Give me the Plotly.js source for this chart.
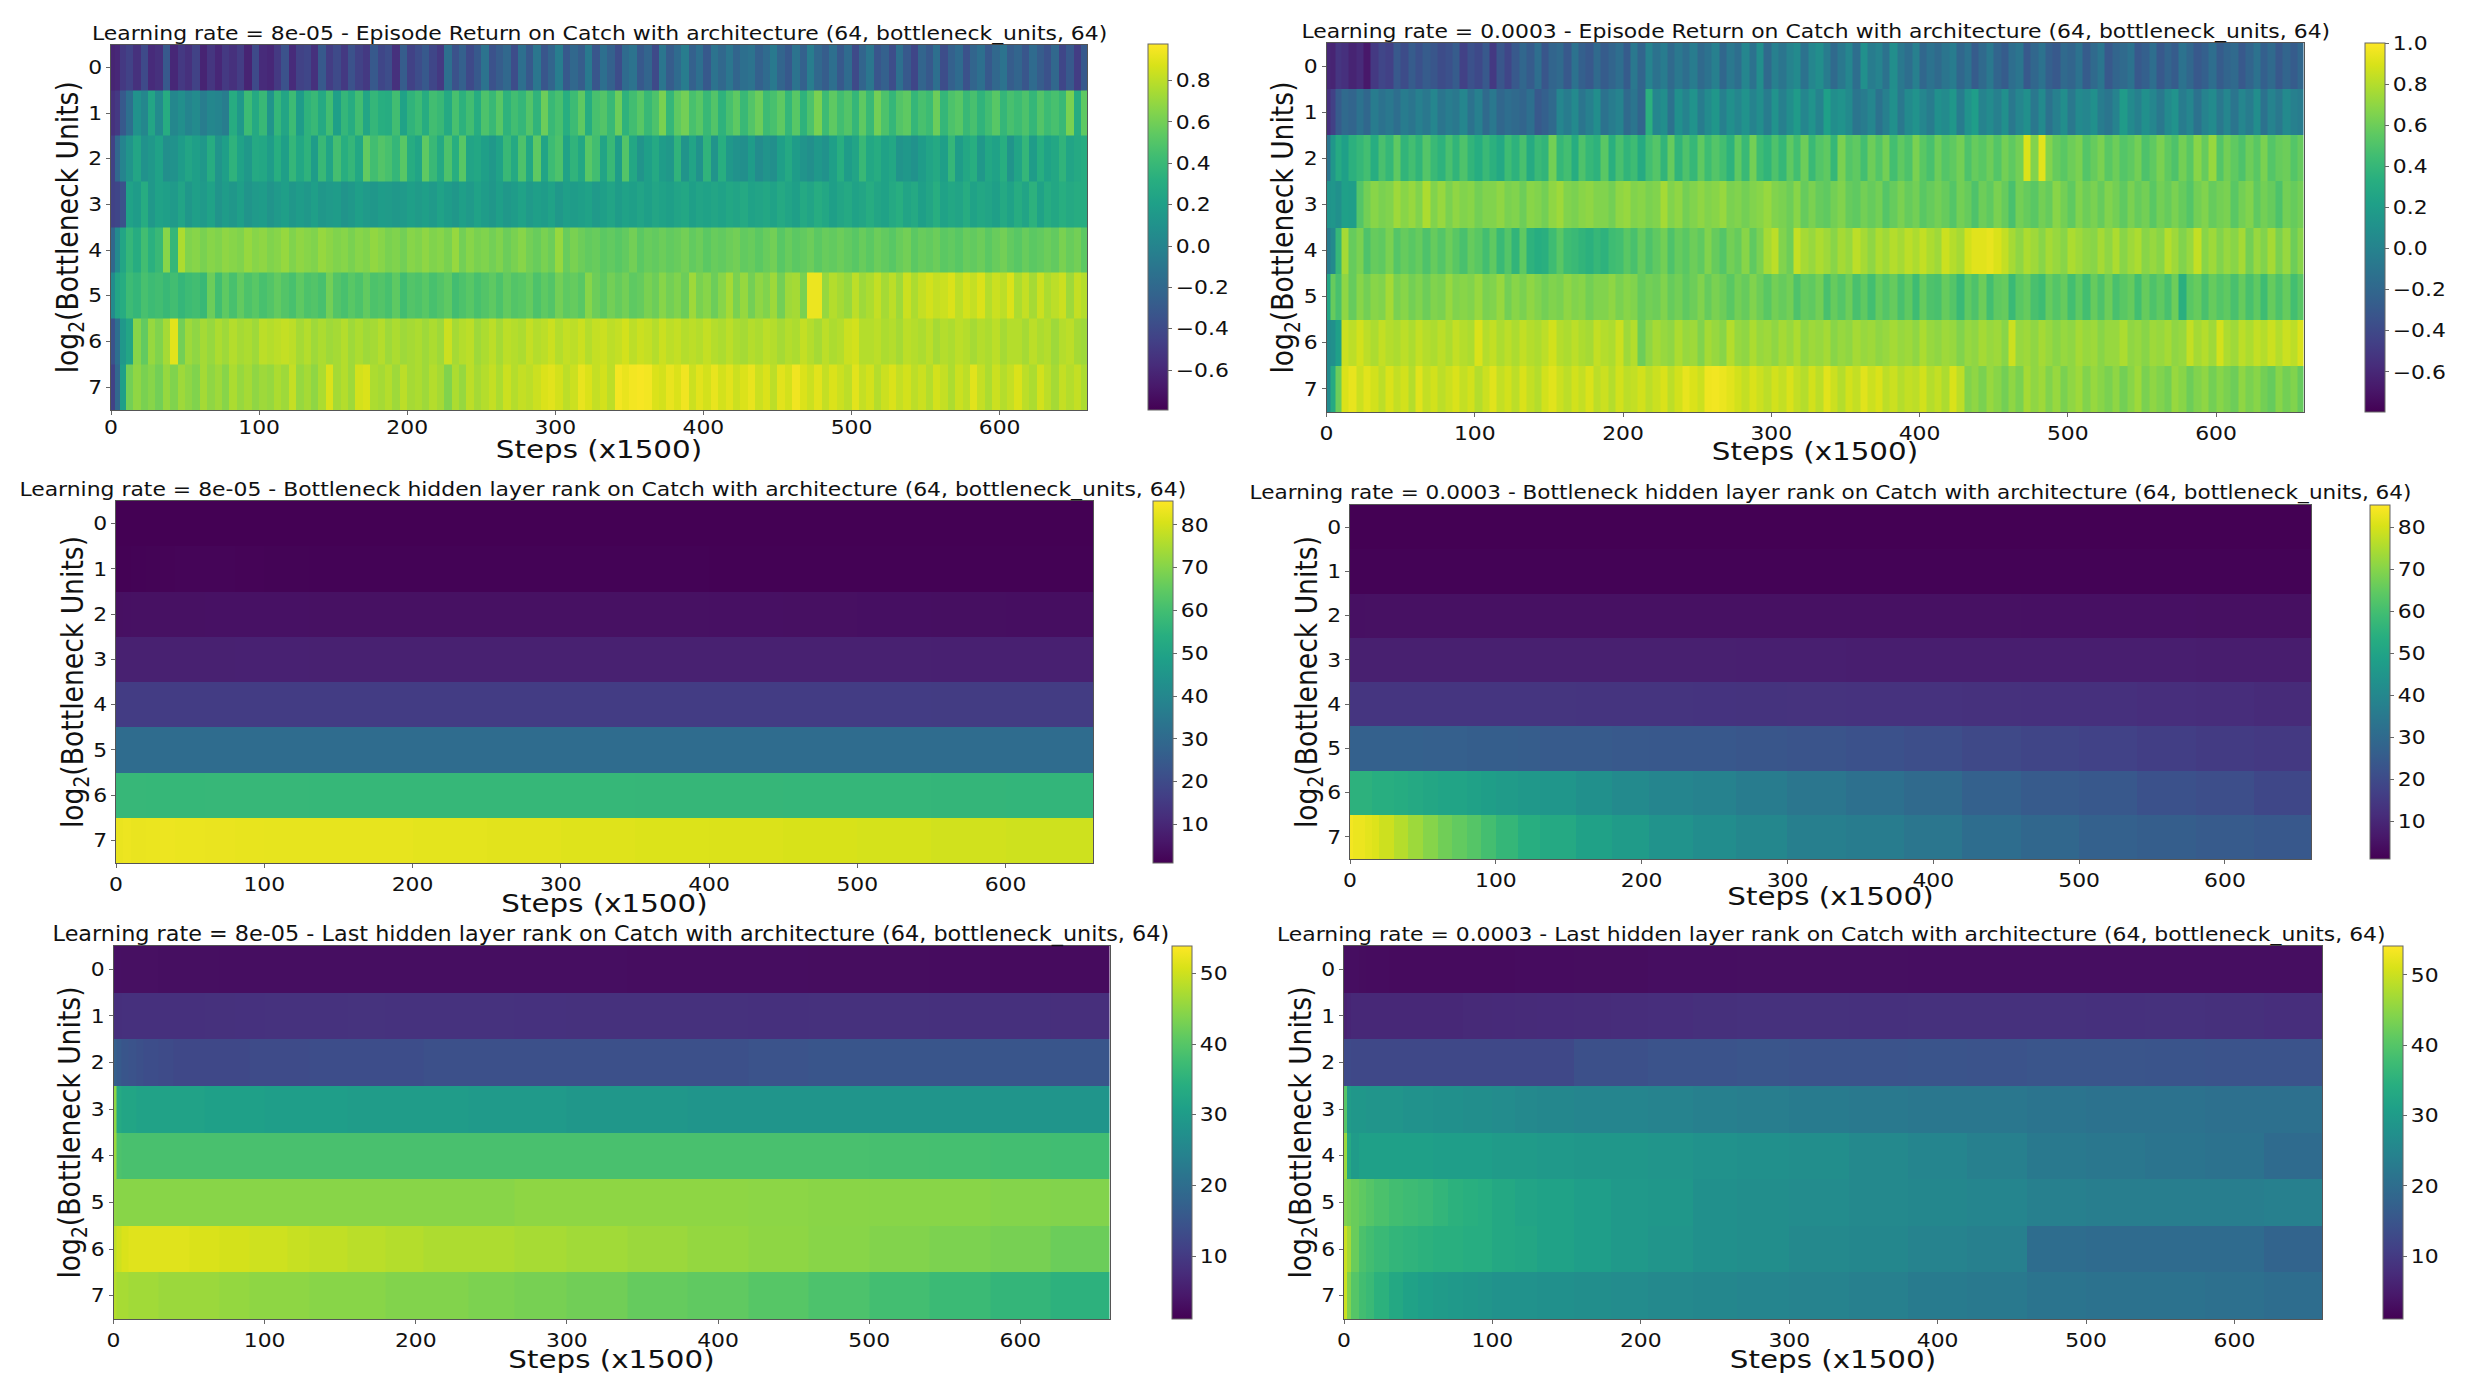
<!DOCTYPE html>
<html><head><meta charset="utf-8">
<script src="https://cdn.plot.ly/plotly-3.0.1.min.js"></script>
<style>html,body{margin:0;padding:0;background:#fff}</style></head>
<body><div id="chart" style="width:2488px;height:1399px"></div>
<script>
const units=[0,1,2,3,4,5,6,7];
const stepEdges=[0,3,6,10,15,20,25,30,35,40,45,50,55,60,65,70,75,80,85,90,95,100,105,110,115,120,125,130,135,140,145,150,155,160,165,170,175,180,185,190,195,200,205,210,215,220,225,230,235,240,245,250,255,260,265,270,275,280,285,290,295,300,305,310,315,320,325,330,335,340,345,350,355,360,365,370,375,380,385,390,395,400,405,410,415,420,425,430,435,440,445,450,455,460,465,470,475,480,485,490,495,500,505,510,515,520,525,530,535,540,545,550,555,560,565,570,575,580,585,590,595,600,605,610,615,620,625,630,635,640,645,650,655,660];
const botEdges=[0,5,10,20,30,40,60,80,100,130,155,200,250,300,350,400,450,500,550,600,660];
const rankEdges=[0,2,5,10,15,20,30,40,50,60,70,80,90,100,115,130,155,180,205,235,265,300,340,380,420,460,500,540,580,620,660];

// Episode return, lr 8e-05
const retLow0=[-.62,-.6,-.5,
-.45,-.55,-.4,-.58,-.55,-.3,-.6,-.5,-.55,-.45,-.62,-.52,-.6,-.5,-.55,-.48,-.62,-.4,-.58,-.6,
-.5,-.35,-.58,-.45,-.42,-.55,-.3,-.48,-.4,-.5,-.35,-.45,-.5,-.3,-.42,-.38,-.55,-.28,-.45,-.38,
-.3,-.42,-.5,-.15,-.35,-.25,-.4,-.3,-.12,-.35,-.28,-.2,-.38,-.15,-.3,-.1,-.32,-.22,-.05,-.3,
-.2,-.28,-.08,-.32,-.15,-.25,-.38,-.18,-.12,-.3,-.22,-.4,-.1,-.28,-.18,-.05,-.25,-.15,-.3,-.12,
-.2,-.1,-.22,-.15,-.12,-.25,-.18,-.08,-.22,-.3,-.12,-.25,-.05,-.2,-.28,-.15,-.3,-.18,-.4,-.22,
-.1,-.32,-.25,-.38,-.15,-.3,-.42,-.22,-.3,-.15,-.38,-.25,-.18,-.35,-.22,-.15,-.3,-.2,-.12,-.28,
-.22,-.32,-.18,-.28,-.35,-.2,-.42,-.3,-.48,-.3];
const retLow1=[-.55,-.5,-.3,
-.15,.1,.02,.25,.05,.3,.02,.08,.0,.05,-.05,.02,.0,-.05,.3,.15,.42,.28,.4,.12,
.38,.25,.42,.18,.35,.4,.28,.44,.2,.38,.3,.44,.25,.38,.32,.3,.44,.22,.36,.42,
.3,.44,.4,.28,.46,.34,.44,.3,.48,.4,.52,.35,.44,.38,.5,.36,.58,.4,.46,.32,
.42,.54,.3,.46,.5,.4,.58,.35,.44,.52,.4,.48,.62,.38,.54,.6,.46,.52,.4,.5,
.35,.46,.54,.4,.5,.58,.42,.46,.54,.38,.52,.35,.48,.62,.42,.54,.44,.5,.38,.54,
.4,.6,.48,.38,.5,.54,.38,.46,.42,.58,.38,.48,.52,.4,.46,.36,.44,.52,.38,.46,
.42,.48,.38,.5,.42,.46,.4,.62,.3,.54];
const retLow2=[-.45,-.2,.0,
.12,.25,.1,.15,.22,.08,.1,.18,.25,.2,.15,.3,.12,.2,.35,.22,.15,.28,.26,.18,
.32,.2,.38,.26,.35,.18,.4,.24,.45,.32,.38,.26,.55,.44,.5,.46,.38,.52,.3,.24,
.54,.4,.28,.48,.32,.52,.24,.26,.2,.15,.22,.4,.28,.48,.26,.54,.24,.42,.48,.22,
.36,.26,.52,.44,.24,.4,.18,.5,.26,.12,.2,.28,.18,.15,.36,.12,.24,.1,.36,.12,
.32,.15,.1,.08,.18,.06,.12,.08,.2,.28,.18,.12,.08,.15,.1,.2,.32,.18,.24,.4,
.26,.3,.22,.26,.12,.15,.1,.18,.24,.28,.2,.38,.18,.26,.32,.15,.26,.22,.32,.12,
.24,.38,.18,.32,.22,.26,.36,.24,.28,.3];
const retLow3=[-.45,-.42,-.35,
.22,.18,.3,.15,.22,.2,.16,.24,.14,.2,.16,.22,.12,.18,.14,.2,.12,.16,.18,.12,
.16,.2,.14,.18,.15,.2,.14,.16,.18,.12,.15,.2,.16,.14,.18,.17,.15,.16,.2,.17,
.2,.16,.22,.18,.14,.2,.16,.22,.18,.14,.2,.15,.18,.22,.16,.2,.18,.22,.15,.2,
.18,.2,.22,.16,.2,.24,.18,.22,.2,.24,.2,.25,.22,.2,.24,.26,.2,.24,.22,.25,
.22,.26,.24,.28,.22,.24,.26,.22,.28,.24,.2,.28,.24,.3,.26,.2,.25,.28,.22,.25,
.3,.25,.22,.28,.32,.24,.28,.2,.25,.32,.22,.26,.24,.3,.22,.26,.24,.2,.28,.22,
.3,.24,.34,.22,.3,.26,.32,.28,.3,.3];
const retLow4=[-.2,.05,.25,
.38,.3,.44,.33,.4,.66,.38,.76,.64,.66,.62,.66,.64,.68,.66,.64,.7,.66,.68,.64,
.66,.7,.64,.68,.66,.64,.7,.67,.64,.66,.62,.66,.64,.69,.66,.62,.64,.6,.66,.64,
.68,.64,.66,.62,.7,.6,.66,.62,.64,.6,.64,.58,.62,.66,.6,.57,.62,.58,.7,.57,
.62,.58,.55,.57,.53,.55,.52,.55,.6,.53,.57,.55,.58,.55,.57,.6,.55,.58,.53,.57,
.55,.58,.6,.55,.57,.53,.57,.6,.52,.57,.53,.55,.58,.53,.57,.55,.58,.55,.52,.57,
.53,.58,.55,.52,.57,.6,.53,.57,.55,.58,.53,.55,.52,.57,.55,.58,.53,.57,.6,.55,
.52,.57,.53,.55,.58,.55,.62,.57,.6,.53];
const retLow5=[.05,.25,.3,
.42,.38,.46,.42,.44,.4,.44,.38,.42,.44,.4,.58,.44,.54,.46,.55,.48,.52,.46,.5,
.55,.5,.46,.54,.48,.5,.46,.6,.5,.46,.52,.48,.55,.48,.5,.46,.54,.44,.5,.48,
.52,.46,.5,.54,.44,.48,.52,.46,.5,.54,.48,.55,.5,.52,.56,.48,.54,.5,.6,.54,
.56,.52,.66,.58,.54,.6,.56,.6,.54,.56,.62,.58,.66,.6,.64,.58,.72,.62,.66,.58,
.66,.74,.62,.7,.6,.68,.64,.72,.6,.72,.74,.62,.93,.93,.7,.78,.74,.7,.8,.72,
.76,.82,.74,.8,.72,.84,.76,.82,.86,.82,.84,.88,.8,.86,.82,.88,.78,.84,.8,.88,
.76,.82,.74,.84,.76,.8,.84,.72,.82,.78];
const retLow6=[-.35,-.15,.15,
.25,.66,.55,.7,.64,.74,.9,.6,.72,.68,.74,.7,.76,.72,.78,.74,.76,.72,.8,.78,
.8,.82,.8,.74,.78,.72,.76,.72,.74,.78,.72,.76,.72,.74,.78,.72,.76,.72,.74,.76,
.72,.76,.72,.84,.74,.78,.8,.72,.76,.8,.74,.8,.78,.76,.82,.78,.8,.84,.78,.82,
.8,.84,.78,.82,.84,.8,.82,.86,.8,.84,.82,.78,.84,.8,.82,.78,.8,.78,.82,.78,
.76,.8,.76,.74,.78,.76,.8,.78,.74,.78,.76,.82,.78,.74,.8,.76,.78,.84,.86,.78,
.78,.8,.76,.78,.74,.8,.78,.76,.8,.74,.78,.76,.8,.78,.74,.78,.76,.8,.74,.78,
.78,.74,.8,.76,.78,.72,.78,.8,.74,.72];
const retLow7=[-.45,-.2,.2,
.6,.68,.62,.66,.6,.7,.64,.72,.68,.64,.74,.68,.72,.66,.76,.7,.74,.68,.72,.7,
.76,.72,.82,.7,.74,.68,.76,.88,.74,.78,.72,.86,.88,.76,.74,.78,.72,.8,.74,.76,
.72,.78,.74,.64,.76,.7,.8,.74,.78,.82,.76,.84,.78,.82,.8,.84,.88,.9,.86,.8,
.84,.92,.88,.82,.86,.8,.95,.92,.95,.96,.95,.88,.86,.92,.88,.94,.84,.9,.86,.92,
.86,.9,.84,.88,.92,.84,.88,.8,.9,.86,.94,.88,.84,.9,.82,.88,.84,.8,.9,.82,
.86,.78,.84,.88,.82,.86,.8,.84,.78,.86,.82,.76,.84,.8,.9,.82,.76,.84,.78,.82,
.88,.8,.76,.86,.8,.74,.82,.78,.82,.76];

// Episode return, lr 0.0003
const retHigh0=[-.6,-.62,-.52,
-.55,-.62,-.58,-.68,-.5,-.42,-.45,-.3,-.38,-.28,-.35,-.28,-.32,-.38,-.35,-.28,-.45,-.35,-.4,-.3,
-.5,-.32,-.42,-.3,-.2,-.28,-.15,-.32,-.22,-.18,-.3,-.12,-.25,-.3,-.18,-.28,-.22,-.15,-.28,-.08,
-.22,.0,-.12,-.05,-.18,-.08,-.15,-.05,-.18,-.12,-.02,-.2,-.08,-.15,.02,-.12,.08,-.18,-.02,-.1,
.0,.05,-.12,.02,.08,-.05,-.18,-.08,.02,-.15,.1,-.05,.0,-.12,.08,-.08,-.15,-.02,-.2,-.12,
-.18,-.1,-.05,-.2,-.12,-.28,-.18,-.08,-.22,-.28,-.15,-.1,-.3,-.2,-.12,-.25,-.3,-.18,-.22,-.12,
-.28,-.18,-.1,-.3,-.22,-.18,-.12,-.3,-.25,-.15,-.3,-.22,-.28,-.12,-.2,-.3,-.25,-.15,-.28,-.22,
-.18,-.3,-.22,-.12,-.25,-.18,-.3,-.22,-.28,-.2];
const retHigh1=[-.55,-.45,-.28,
-.18,-.22,-.12,-.2,-.05,-.12,-.08,-.15,-.05,-.1,-.02,-.08,.02,-.1,-.04,-.08,.02,-.12,-.02,-.18,
-.08,-.2,-.15,-.18,-.22,-.14,-.3,-.25,-.18,.02,-.05,.05,-.1,-.02,.08,-.12,-.05,.0,-.18,-.1,
-.22,.35,.02,.08,-.12,.1,.0,.12,-.05,.06,.15,-.02,.1,.02,.12,.0,.08,-.05,.12,-.02,
.08,.18,.02,.12,.0,.22,.08,.12,.05,-.1,-.05,.02,-.12,-.02,.1,-.08,.05,.12,.02,-.05,
.1,.06,.15,-.05,.12,.2,.0,.06,-.02,.1,-.08,.02,.1,-.08,.05,-.12,-.02,.08,-.08,.05,
.02,.1,-.05,-.1,.0,.18,.05,-.02,.1,.02,-.08,.05,.12,-.05,.02,-.12,.0,.06,-.08,.02,
-.1,.02,-.05,.08,-.12,.0,-.08,.05,-.02,-.05];
const retHigh2=[-.1,.15,.3,
.22,.35,.4,.46,.32,.48,.4,.56,.38,.46,.38,.52,.42,.36,.48,.38,.5,.38,.32,.42,
.35,.28,.44,.36,.48,.3,.42,.38,.62,.4,.46,.32,.5,.4,.36,.54,.34,.48,.38,.44,
.3,.46,.52,.38,.58,.38,.5,.4,.56,.44,.52,.46,.36,.56,.42,.62,.44,.38,.5,.4,
.56,.46,.6,.42,.52,.56,.4,.64,.52,.56,.46,.6,.52,.62,.46,.56,.5,.64,.54,.48,
.6,.52,.56,.62,.5,.58,.54,.6,.52,.62,.56,.62,.9,.66,.92,.66,.58,.54,.6,.64,
.52,.58,.64,.54,.6,.52,.56,.62,.5,.56,.64,.56,.5,.62,.54,.68,.58,.72,.52,.62,
.56,.5,.6,.54,.64,.52,.58,.6,.52,.58];
const retHigh3=[.12,.14,.1,
.22,.2,.52,.62,.68,.64,.66,.74,.68,.72,.66,.78,.66,.72,.64,.7,.66,.68,.62,.66,
.66,.7,.64,.66,.6,.68,.66,.62,.7,.74,.66,.64,.68,.7,.66,.66,.62,.7,.72,.66,
.68,.64,.66,.76,.66,.7,.62,.66,.7,.66,.68,.72,.64,.66,.62,.66,.68,.72,.66,.64,
.6,.68,.58,.64,.58,.56,.62,.66,.58,.56,.62,.58,.62,.52,.58,.64,.58,.62,.54,.58,
.62,.58,.52,.62,.58,.5,.6,.56,.64,.58,.48,.62,.58,.54,.62,.58,.68,.62,.56,.66,
.6,.64,.58,.66,.62,.56,.64,.58,.62,.54,.62,.58,.64,.58,.52,.62,.66,.58,.62,.64,
.54,.62,.66,.56,.62,.58,.5,.62,.58,.62];
const retHigh4=[-.05,.05,.4,
.76,.58,.64,.5,.58,.56,.64,.52,.58,.54,.58,.5,.58,.52,.6,.54,.48,.58,.54,.46,
.56,.42,.52,.38,.56,.36,.32,.34,.44,.54,.44,.42,.38,.35,.4,.36,.44,.46,.54,.48,
.58,.5,.56,.62,.5,.58,.54,.6,.56,.66,.58,.52,.62,.58,.68,.56,.64,.76,.82,.66,
.6,.84,.76,.72,.78,.74,.68,.76,.72,.82,.76,.7,.78,.74,.8,.76,.82,.78,.84,.78,
.74,.86,.8,.76,.88,.92,.92,.94,.9,.84,.76,.7,.78,.74,.68,.76,.72,.68,.78,.74,
.7,.68,.76,.7,.78,.68,.74,.78,.68,.72,.68,.8,.74,.66,.72,.84,.68,.74,.66,.72,
.68,.76,.62,.72,.66,.76,.64,.72,.6,.68];
const retHigh5=[.25,.58,.48,
.7,.58,.68,.62,.68,.66,.76,.64,.68,.62,.66,.6,.66,.64,.72,.66,.68,.66,.72,.64,
.66,.72,.62,.68,.64,.7,.66,.62,.66,.64,.7,.66,.68,.62,.66,.66,.7,.64,.68,.66,
.58,.62,.6,.66,.58,.62,.56,.6,.66,.58,.64,.6,.54,.62,.58,.66,.6,.54,.62,.58,
.62,.5,.58,.56,.62,.48,.58,.52,.6,.48,.56,.46,.58,.52,.58,.48,.56,.44,.58,.5,
.48,.58,.52,.42,.56,.5,.6,.46,.56,.58,.42,.54,.58,.48,.44,.58,.52,.58,.46,.56,
.46,.58,.5,.6,.48,.54,.58,.46,.58,.5,.56,.48,.6,.34,.54,.58,.48,.58,.52,.56,
.48,.58,.48,.56,.44,.58,.5,.58,.46,.54];
const retHigh6=[.05,.1,.22,
.86,.82,.88,.82,.78,.84,.8,.78,.82,.78,.84,.8,.78,.82,.78,.84,.8,.78,.9,.8,
.84,.78,.82,.78,.84,.8,.78,.82,.88,.8,.78,.82,.78,.76,.84,.8,.78,.86,.74,.8,
.6,.7,.76,.72,.7,.78,.72,.74,.66,.76,.72,.68,.8,.72,.7,.78,.72,.74,.7,.76,
.72,.78,.7,.74,.72,.76,.68,.72,.7,.76,.72,.74,.7,.72,.76,.72,.74,.7,.78,.72,
.7,.74,.72,.66,.72,.7,.76,.72,.74,.68,.86,.72,.74,.7,.76,.72,.68,.72,.7,.76,
.72,.74,.68,.72,.72,.78,.7,.72,.68,.74,.72,.76,.7,.72,.84,.76,.8,.74,.88,.78,
.74,.82,.78,.84,.8,.86,.8,.86,.82,.9];
const retHigh7=[.05,.3,.6,
.9,.94,.86,.92,.88,.82,.9,.84,.88,.8,.92,.84,.88,.82,.86,.9,.84,.88,.8,.86,
.92,.84,.88,.82,.9,.84,.8,.88,.92,.86,.82,.88,.84,.9,.82,.86,.8,.88,.82,.84,
.88,.82,.86,.9,.82,.88,.94,.9,.86,.96,.97,.95,.92,.88,.84,.9,.86,.82,.88,.84,
.9,.84,.8,.88,.82,.92,.86,.8,.88,.84,.92,.86,.9,.82,.86,.8,.84,.82,.88,.8,
.84,.78,.9,.82,.66,.7,.64,.72,.68,.62,.7,.64,.76,.7,.74,.66,.72,.64,.7,.74,
.66,.72,.68,.64,.7,.62,.68,.74,.64,.7,.66,.62,.72,.68,.6,.66,.7,.62,.68,.64,
.6,.7,.64,.68,.62,.58,.68,.62,.66,.58];

// Bottleneck hidden layer rank, lr 8e-05
const botLow0=[1.1,1.1,1.1,1.1,1.1,1.1,1.1,1.1,1.1,1.1,1.1,1.1,1.1,1.1,1.1,1.1,1.1,1.1,1.1,1.1];
const botLow1=[1.3,1.3,1.5,1.6,1.7,1.9,2,1.8,1.6,1.5,1.4,1.4,1.4,1.4,1.4,1.3,1.3,1.3,1.3,1.3];
const botLow2=[4.4,4.5,4.6,4.6,4.6,4.7,4.8,4.8,4.8,4.7,4.7,4.7,4.6,4.6,4.6,4.5,4.4,4.3,4.2,4.1];
const botLow3=[8.6,8.6,8.6,8.6,8.6,8.6,8.6,8.7,8.7,8.6,8.6,8.6,8.6,8.6,8.6,8.6,8.5,8.5,8.4,8.4];
const botLow4=[15.8,15.8,15.8,15.8,15.8,15.8,15.8,15.8,15.8,15.8,15.8,15.8,15.8,15.8,15.8,15.8,15.8,15.8,15.7,15.7];
const botLow5=[30.6,30.6,30.6,30.6,30.6,30.6,30.6,30.6,30.6,30.6,30.6,30.6,30.6,30.6,30.6,30.6,30.6,30.6,30.6,30.6];
const botLow6=[57.5,57.5,57.5,57.4,57.4,57.4,57.5,57.5,57.5,57.4,57.4,57.4,57.4,57.4,57.3,57.2,57.1,57,56.8,56.6];
const botLow7=[83,83.4,83,83.2,83.4,83.2,83,82.8,82.6,82.6,82.6,82.2,82,81.6,81.2,81,80.6,80.2,79.8,79.4];

// Bottleneck hidden layer rank, lr 0.0003
const botHigh0=[1.1,1.1,1.1,1.1,1.1,1.1,1.1,1.1,1.1,1.1,1.1,1.1,1.1,1.1,1.1,1.1,1.1,1.1,1.1,1.1,1.1,1.1,1.1,1.1,1.1,1.1,1.1,1.1,1.1,1.1];
const botHigh1=[1.5,1.5,1.5,1.5,1.5,1.5,1.5,1.5,1.5,1.5,1.5,1.5,1.5,1.5,1.5,1.5,1.5,1.5,1.5,1.5,1.5,1.5,1.5,1.5,1.5,1.5,1.5,1.5,1.5,1.5];
const botHigh2=[4.6,4.6,4.6,4.7,4.7,4.7,4.7,4.7,4.7,4.7,4.7,4.7,4.7,4.7,4.7,4.7,4.7,4.7,4.7,4.8,4.8,4.8,4.8,4.7,4.7,4.6,4.6,4.6,4.5,4.5];
const botHigh3=[8.3,8.3,8.3,8.3,8.3,8.3,8.3,8.4,8.4,8.4,8.4,8.4,8.4,8.4,8.4,8.4,8.4,8.4,8.4,8.3,8.2,8.1,8,8,7.9,7.9,7.8,7.8,7.7,7.6];
const botHigh4=[14,14,14,14,14,14,14,14,14,14,14,14,14,14,13.9,13.8,13.7,13.6,13.5,13.4,13.3,13.2,13,13,12.8,12.6,12.4,12,11.6,11.2];
const botHigh5=[27,27,27,27,27,27,27,27,26.5,26.5,26.5,26,26,26,25.5,25,25,24.5,24,24,23.5,23,22,21,19.5,18.5,17.5,16.5,15.5,15];
const botHigh6=[55,55,55,55,54,54,53,52,51,50,50,49,48,47,46,45,43,41,39,38,36,34,32,30,27,25,24,22,21,19];
const botHigh7=[84,83,83,82,81,79,76,73,70,67,65,63,60,57,54,52,49,47,44,42,40,37,36,34,31,29,27,26,25,24];

// Last hidden layer rank, lr 8e-05
const lastLow0=[3.4,3.3,3.2,3.2,3.2,3.2,3.1,3.1,3.1,3.1,3,3,3,3,3,3,3,3,3,3,3,3,2.9,2.9,2.9,2.8,2.8,2.7,2.6,2.6];
const lastLow1=[8,8.1,8.2,8.2,8.2,8.2,8.2,8.3,8.3,8.4,8.4,8.5,8.5,8.6,8.6,8.6,8.7,8.6,8.6,8.6,8.5,8.4,8.4,8.4,8.3,8.4,8.4,8.2,8.2,8];
const lastLow2=[17,16,15,14.5,14,13.5,13,12.5,12.5,12.5,12.5,12.5,13,13,13,13.5,13.5,13.5,14,14,14,14,14,14,14.5,15,15,15,15,15];
const lastLow3=[45,33,32,32,31.5,31.5,31.5,31.5,31.5,31,31,31,31,30.5,30.5,30.5,30,30,30,29.5,29.5,29,29,28.5,28.5,28.5,28.5,28.5,28.5,28.5];
const lastLow4=[46,39,38.6,38.6,38.6,38.6,38.6,38.6,38.6,38.6,38.6,38.6,38.6,38.6,38.6,38.6,38.6,38.6,38.6,38.6,38.6,38.6,38.6,38.6,38.6,38.6,38.4,38.2,38,37.8];
const lastLow5=[45,44.5,44.5,44.5,44.5,44.5,44.5,44.5,44.5,44.5,44.5,44.5,44.5,44.5,44.5,44.5,44.5,44.5,44.5,44.5,45,45,45,45,44.8,44.6,44.5,44.5,44.2,44];
const lastLow6=[49,50,51,51.5,51.5,51.5,51.5,51.5,51,51,50.5,50.5,50,50,49.5,49,48.5,48,47.5,47.5,47,46.5,46,45.5,45,44.5,44,43.5,43,42];
const lastLow7=[48,47,47,46.5,46.5,46.5,46,46,46,46,45.5,45.5,45,45,45,44.5,44.5,44,44,43.5,43,42.5,41.5,41,40,39,38,37,36,35];

// Last hidden layer rank, lr 0.0003
const lastHigh0=[3,3,3,2.8,2.7,2.7,2.6,2.6,2.6,2.6,2.6,2.6,2.6,2.6,2.7,2.7,2.8,2.8,3,3,3.1,3.1,3.1,3,3,3,3,3,3,3];
const lastHigh1=[6,6.5,7,7,7,7,7,7,7,7,7,7.2,7.2,7.3,7.4,7.5,7.6,7.8,8,8.2,8.4,8.4,8.3,8.4,8.4,8.4,8.3,8.4,8.2,8];
const lastHigh2=[13,13,12.5,12.5,12.5,12.5,12.5,12.5,12.5,12.5,12.5,12.5,12.5,12.5,12.5,12.5,14,14,14.5,14.5,15,14.5,14.5,14.8,14.5,15,15,14.8,14.5,14.5];
const lastHigh3=[40,30,29,29,28.5,28.5,28.5,28,28,27.5,27.5,27,27,26.5,26,25.5,25,25,24.5,24,23.5,23,22.5,22,22,21.5,21,21,20.5,20.5];
const lastHigh4=[46,33,30,31,31,31,31,31,31,30.5,30.5,30.5,30.5,30,30,29.5,29,29,28.5,28,27.5,27,26,25,24,22.5,22,21.5,21,19.5];
const lastHigh5=[44,43,42,41,40,39,38,37.5,37,36,35,34.5,34,33,32,31.5,30.5,29.5,29,27.5,27,26.5,26,25.5,25,24,23.5,23.5,23.5,24];
const lastHigh6=[50,47,42,39,38,37,36,35.5,35,34.5,34.5,34,34,33,32.5,31.5,30.5,29.5,28.5,27.5,27,26,25.5,24.5,24,20,19.5,19.5,19.5,18];
const lastHigh7=[50,44,40,38,37,35,33,31.5,30.5,30,29.5,29,28.5,28,28,27.5,27,26.5,26,25.5,25,24.5,24,23,22.5,21.5,21,21,20.5,20];

const titles=[
"Learning rate = 8e-05 - Episode Return on Catch with architecture (64, bottleneck_units, 64)",
"Learning rate = 0.0003 - Episode Return on Catch with architecture (64, bottleneck_units, 64)",
"Learning rate = 8e-05 - Bottleneck hidden layer rank on Catch with architecture (64, bottleneck_units, 64)",
"Learning rate = 0.0003 - Bottleneck hidden layer rank on Catch with architecture (64, bottleneck_units, 64)",
"Learning rate = 8e-05 - Last hidden layer rank on Catch with architecture (64, bottleneck_units, 64)",
"Learning rate = 0.0003 - Last hidden layer rank on Catch with architecture (64, bottleneck_units, 64)"];
const xLabel="Steps (x1500)";
const yLabel="log<sub>2</sub>(Bottleneck Units)";
const xTicks=[0,100,200,300,400,500,600];
const retTicks=[-.6,-.4,-.2,0,.2,.4,.6,.8];
const retTicksHigh=[-.6,-.4,-.2,0,.2,.4,.6,.8,1];
const botTicks=[10,20,30,40,50,60,70,80];
const lastTicks=[10,20,30,40,50];

const W=2488,H=1399,FF='"DejaVu Sans", sans-serif';
const TICK=19;
const panels=[
 {z:[retLow0,retLow1,retLow2,retLow3,retLow4,retLow5,retLow6,retLow7],e:stepEdges,zr:[-.793,.977],t:retTicks,fmt:'.1f',box:[111,1087,44.5,410],cb:1148,tc:[599,33],ts:20,xs:8},
 {z:[retHigh0,retHigh1,retHigh2,retHigh3,retHigh4,retHigh5,retHigh6,retHigh7],e:stepEdges,zr:[-.795,1],t:retTicksHigh,fmt:'.1f',box:[1326.5,2303.5,43,412],cb:2365,tc:[1815,31],ts:20,xs:8},
 {z:[botLow0,botLow1,botLow2,botLow3,botLow4,botLow5,botLow6,botLow7],e:botEdges,zr:[1,85.6],t:botTicks,box:[116,1093,501,863],cb:1153,tc:[603,489],ts:20,xs:7},
 {z:[botHigh0,botHigh1,botHigh2,botHigh3,botHigh4,botHigh5,botHigh6,botHigh7],e:rankEdges,zr:[1.1,85.3],t:botTicks,box:[1350,2311,505,859],cb:2370,tc:[1830,493],ts:19.7,xs:10},
 {z:[lastLow0,lastLow1,lastLow2,lastLow3,lastLow4,lastLow5,lastLow6,lastLow7],e:rankEdges,zr:[1.1,53.9],t:lastTicks,box:[113.5,1109.5,946,1319],cb:1172,tc:[611,934],ts:20.4,xs:7},
 {z:[lastHigh0,lastHigh1,lastHigh2,lastHigh3,lastHigh4,lastHigh5,lastHigh6,lastHigh7],e:rankEdges,zr:[1.1,54.1],t:lastTicks,box:[1344,2322,946,1319],cb:2382.5,tc:[1831,934],ts:20,xs:7}
];
const traces=[],layout={width:W,height:H,margin:{l:0,r:0,t:0,b:0},paper_bgcolor:'#fff',plot_bgcolor:'#fff',showlegend:false,annotations:[],font:{family:FF,color:'#000'}};
const axisBase={showgrid:false,zeroline:false,showline:true,mirror:true,linecolor:'#555',linewidth:1,ticks:'outside',ticklen:4,tickwidth:1,tickcolor:'#666',tickfont:{family:FF,size:TICK,color:'#111'}};
panels.forEach((p,i)=>{
 const n=i?String(i+1):'';
 const [l,r,t,b]=p.box;
 traces.push({type:'heatmap',x:p.e,y:units,z:p.z,xaxis:'x'+n,yaxis:'y'+n,colorscale:'Viridis',zmin:p.zr[0],zmax:p.zr[1],zsmooth:false,
  colorbar:{x:p.cb/W,xanchor:'left',y:(H-b)/H,yanchor:'bottom',len:(b-t)/H,lenmode:'fraction',thickness:20,thicknessmode:'pixels',xpad:0,ypad:0,
   outlinewidth:1,outlinecolor:'#666',ticks:'outside',ticklen:4,tickwidth:1,tickcolor:'#666',tickvals:p.t,tickformat:p.fmt||'',tickfont:{family:FF,size:TICK,color:'#111'}}});
 layout['xaxis'+n]=Object.assign({},axisBase,{domain:[l/W,r/W],range:[0,659],anchor:'y'+n,tickvals:xTicks,
   title:{text:xLabel,font:{family:FF,size:25.5,color:'#111'},standoff:0}});
 layout['yaxis'+n]=Object.assign({},axisBase,{domain:[(H-b)/H,(H-t)/H],range:[7.5,-0.5],anchor:'x'+n,tickvals:units,
   title:{text:yLabel,font:{family:FF,size:31,color:'#111'},standoff:2}});
 layout.annotations.push({xref:'paper',yref:'paper',x:p.tc[0]/W,y:(H-p.tc[1])/H,xanchor:'center',yanchor:'middle',showarrow:false,text:titles[i],font:{family:FF,size:p.ts,color:'#111'}});
});
Plotly.newPlot('chart',traces,layout,{displayModeBar:false,staticPlot:true}).then(()=>{
 // the reference image is stretched sideways, so glyphs are wider than tall
 document.querySelectorAll('#chart svg text').forEach(el=>{
  if(!el.textContent.trim()){el.remove();return;}
  const len=el.getComputedTextLength();
  const rot=(el.getAttribute('transform')||'').includes('rotate(-90');
  const isTitle=el.classList.contains('annotation-text');
  el.setAttribute('textLength',rot?len/1.165:len*(isTitle?1.095:1.15));
  el.setAttribute('lengthAdjust','spacingAndGlyphs');
 });
 document.querySelectorAll('#chart svg .xtick text, #chart svg [class*="xtick"] text').forEach(el=>{
  const y=el.getAttribute('y');
  if(y!==null&&!el.dataset.moved){el.setAttribute('y',parseFloat(y)-4);el.dataset.moved='1';}
 });
 panels.forEach((p,i)=>{
  const el=document.querySelector('#chart svg text.x'+(i?i+1:'')+'title');
  if(el)el.setAttribute('y',parseFloat(el.getAttribute('y'))-p.xs);
 });
});
</script></body></html>
